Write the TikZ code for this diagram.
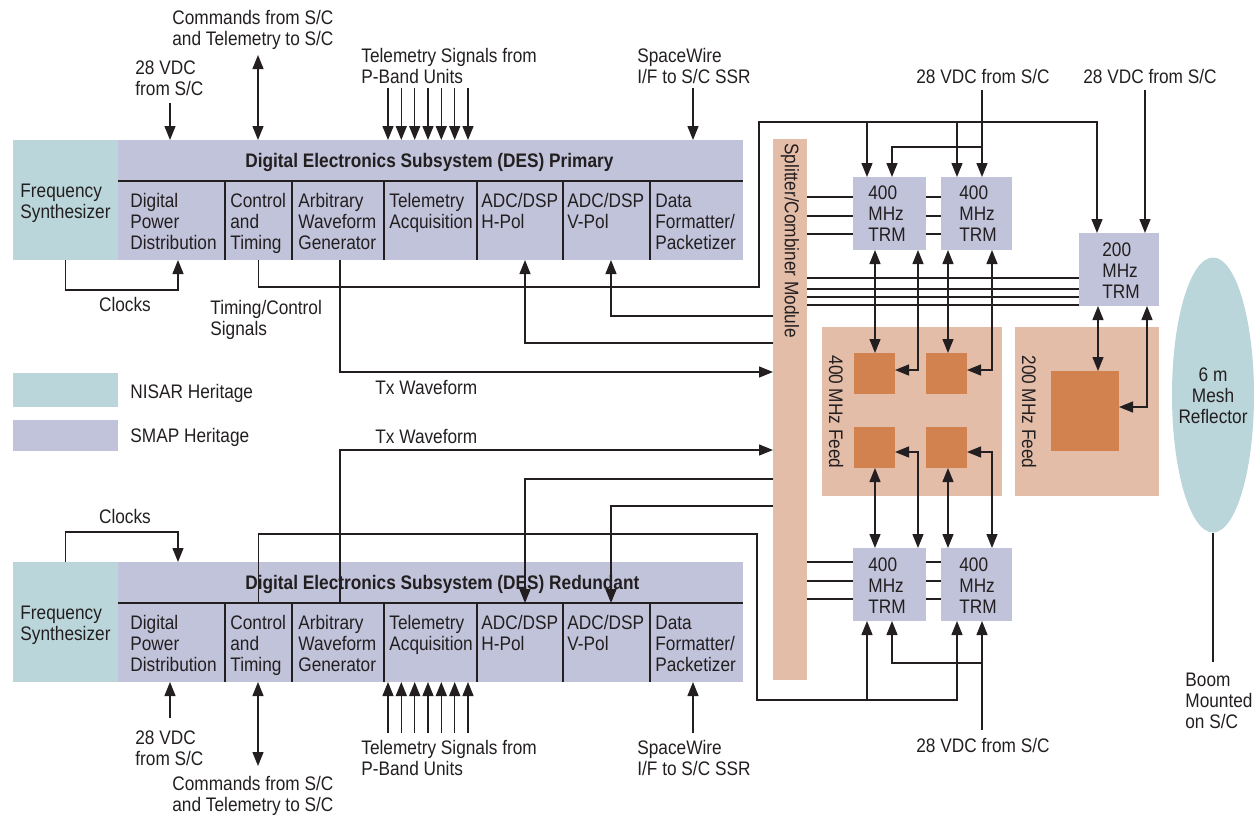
\documentclass[tikz,border=0pt]{standalone}
\usepackage{fontspec}
\setmainfont[FakeStretch=0.88]{Liberation Sans}
\usetikzlibrary{arrows.meta,fit,shapes.geometric}
\definecolor{nisar}{HTML}{BBD6DA}
\definecolor{smap}{HTML}{C1C3DA}
\definecolor{salmon}{HTML}{E4BDA9}
\definecolor{feedel}{HTML}{D1824F}
\definecolor{ink}{HTML}{231F20}
\newcommand\lbfont{\fontsize{9.8}{10.5}\selectfont}
\tikzset{
 blk/.style={inner sep=0pt,outer sep=0pt,draw=none},
 lbl/.style={inner sep=0pt,align=left,anchor=base west,text=ink,font=\lbfont},
 clbl/.style={lbl,align=center,anchor=base},
 ln/.style={draw=ink,line width=0.65pt},
}
\newcommand\desblk[3]{%
 \node[blk,fill=nisar,fit={(13,140+#2)(118,260+#2)}](fs#1){};
 \node[blk,fill=smap,fit={(118,140+#2)(743,260+#2)}](des#1){};
 \node[blk,fit={(118,140+#2)(743,181+#2)}](hd#1){};
 \node[blk,fit={(118,181+#2)(225,260+#2)}](dpd#1){};
 \node[blk,fit={(225,181+#2)(292,260+#2)}](ct#1){};
 \node[blk,fit={(292,181+#2)(384,260+#2)}](awg#1){};
 \node[blk,fit={(384,181+#2)(477,260+#2)}](tel#1){};
 \node[blk,fit={(477,181+#2)(563,260+#2)}](adch#1){};
 \node[blk,fit={(563,181+#2)(650,260+#2)}](adcv#1){};
 \node[blk,fit={(650,181+#2)(743,260+#2)}](dfp#1){};
 \draw[ln] (hd#1.south west)--(hd#1.south east);
 \foreach \xx in {225,292,384,477,563,650}{\draw[ln] (\xx,181+#2)--(\xx,260+#2);}
 \node[lbl,font=\lbfont\bfseries] (ttl#1) at (245,167+#2) {Digital Electronics Subsystem (DES) #3};
 \node[lbl] (tfs#1) at (20,218+#2) {Frequency\\Synthesizer};
 \node[lbl] (tdpd#1) at (130,249+#2) {Digital\\Power\\Distribution};
 \node[lbl] (tct#1) at (230,249+#2) {Control\\and\\Timing};
 \node[lbl] (tawg#1) at (298,249+#2) {Arbitrary\\Waveform\\Generator};
 \node[lbl] (ttel#1) at (389,228+#2) {Telemetry\\Acquisition};
 \node[lbl] (tadch#1) at (481,228+#2) {ADC/DSP\\H-Pol};
 \node[lbl] (tadcv#1) at (567,228+#2) {ADC/DSP\\V-Pol};
 \node[lbl] (tdfp#1) at (655,249+#2) {Data\\Formatter/\\Packetizer};
}
\begin{document}
\begin{tikzpicture}[x=0.5pt,y=-0.5pt,>={Triangle[length=7pt,width=5.5pt]}]
\useasboundingbox (0,0) rectangle (1260,815);
\desblk{1}{0}{Primary}
\desblk{2}{422}{Redundant}
% legend
\node[blk,fill=nisar,fit={(13,373)(118,407)}](lgn){};
\node[blk,fill=smap,fit={(13,420)(118,451)}](lgs){};
\node[lbl] (tlgn) at (130,398) {NISAR Heritage};
\node[lbl] (tlgs) at (130,442) {SMAP Heritage};
% splitter
\node[blk,fill=salmon,fit={(773,139)(807,680)}](split){};
\node[lbl,rotate=-90,anchor=west] (tsplit) at (790,143) {Splitter/Combiner Module};
% feeds
\node[blk,fill=salmon,fit={(822,327)(1002,496)}](f400){};
\node[blk,fill=salmon,fit={(1015,327)(1159,496)}](f200){};
\node[lbl,rotate=-90,anchor=center] (tf400) at (836,412) {400 MHz Feed};
\node[lbl,rotate=-90,anchor=center] (tf200) at (1029,412) {200 MHz Feed};
\node[blk,fill=feedel,fit={(854,353)(895,394)}](e1){};
\node[blk,fill=feedel,fit={(926,353)(967,394)}](e2){};
\node[blk,fill=feedel,fit={(854,427)(895,468)}](e3){};
\node[blk,fill=feedel,fit={(926,427)(967,468)}](e4){};
\node[blk,fill=feedel,fit={(1051,371)(1119,451)}](e5){};
% TRMs
\node[blk,fill=smap,fit={(853,177)(926,250)}](trm1){};
\node[blk,fill=smap,fit={(941,177)(1012,250)}](trm2){};
\node[blk,fill=smap,fit={(1079,233)(1159,306)}](trm200){};
\node[blk,fill=smap,fit={(853,548)(926,621)}](trm3){};
\node[blk,fill=smap,fit={(941,548)(1012,621)}](trm4){};
\node[lbl] (ttrm1) at (868,241) {400\\MHz\\TRM};
\node[lbl] (ttrm2) at (959,241) {400\\MHz\\TRM};
\node[lbl] (ttrm200) at (1102,298) {200\\MHz\\TRM};
\node[lbl] (ttrm3) at (868,613) {400\\MHz\\TRM};
\node[lbl] (ttrm4) at (959,613) {400\\MHz\\TRM};
% reflector
\node[ellipse,fill=nisar,inner sep=0pt,minimum width=41pt,minimum height=137.5pt] (refl) at (1213,395) {};
\node[clbl] (trefl) at (1213,423) {6 m\\Mesh\\Reflector};
\coordinate (boomend) at (1213,662);
\draw[draw=ink,line width=1.3pt] (refl.south) -- (boomend);
\node[lbl] (tboom) at (1185,728) {Boom\\Mounted\\on S/C};
% labels top
\node[lbl] (lpw1) at (135,95) {28 VDC\\from S/C};
\node[lbl] (lcmd1) at (172,45) {Commands from S/C\\and Telemetry to S/C};
\node[lbl] (ltel1) at (361,83) {Telemetry Signals from\\P-Band Units};
\node[lbl] (lspw1) at (637,83) {SpaceWire\\I/F to S/C SSR};
\node[clbl] (lclk1) at (125,311) {Clocks};
\node[lbl] (ltim) at (210,335) {Timing/Control\\Signals};
\node[lbl] (ltx1) at (375,394) {Tx Waveform};
\node[lbl] (ltx2) at (375,443) {Tx Waveform};
\node[clbl] (lpwa) at (983,83) {28 VDC from S/C};
\node[clbl] (lpwb) at (1150,83) {28 VDC from S/C};
% labels bottom
\node[lbl] (lpw2) at (135,765) {28 VDC\\from S/C};
\node[lbl] (lcmd2) at (172,811) {Commands from S/C\\and Telemetry to S/C};
\node[lbl] (ltel2) at (361,775) {Telemetry Signals from\\P-Band Units};
\node[lbl] (lspw2) at (637,775) {SpaceWire\\I/F to S/C SSR};
\node[clbl] (lclk2) at (125,523) {Clocks};
\node[clbl] (lpwc) at (983,752) {28 VDC from S/C};
% primary connectors
\coordinate (p1pwr) at (170,103);
\draw[->,ln] (p1pwr) -- (des1.north -| p1pwr);
\coordinate (p1cmd) at (258,55);
\draw[<->,ln] (p1cmd) -- (des1.north -| p1cmd);
\foreach \xx [count=\i] in {388,401.3,414.7,428,441.3,454.7,468}{
 \coordinate (p1tel\i) at (\xx,88); \draw[->,ln] (p1tel\i) -- (des1.north -| p1tel\i);}
\coordinate (p1spw) at (693,88);
\draw[->,ln] (p1spw) -- (des1.north -| p1spw);
\draw[->,ln] (fs1.south) -- ++(0,30) -| (des1.south -| 178,0);
\draw[->,ln] (ct1.south) |- (759,287) |- (1097,122) -- (trm200.north -| 1097,0);
\draw[->,ln] (867,122) -- (trm1.north -| 867,0);
\draw[->,ln] (957,122) -- (trm2.north -| 957,0);
\draw[->,ln] (awg1.south -| 340,0) |- (split.west |- 0,372);
\draw[->,ln] (split.west |- 0,343) -| (adch1.south -| 525,0);
\draw[->,ln] (split.west |- 0,316) -| (adcv1.south -| 611,0);
% redundant connectors
\coordinate (p2pwr) at (170,718);
\draw[->,ln] (p2pwr) -- (des2.south -| p2pwr);
\coordinate (p2cmd) at (258,766);
\draw[<->,ln] (p2cmd) -- (des2.south -| p2cmd);
\foreach \xx [count=\i] in {388,401.3,414.7,428,441.3,454.7,468}{
 \coordinate (p2tel\i) at (\xx,733); \draw[->,ln] (p2tel\i) -- (des2.south -| p2tel\i);}
\coordinate (p2spw) at (693,733);
\draw[->,ln] (p2spw) -- (des2.south -| p2spw);
\draw[->,ln] (fs2.north) -- ++(0,-30) -| (des2.north -| 178,0);
\draw[->,ln] (ct2.north) |- (757,534) |- (957,700) -- (trm4.south -| 957,0);
\draw[->,ln] (867,700) -- (trm3.south -| 867,0);
\draw[->,ln] (awg2.north -| 340,0) |- (split.west |- 0,450);
\draw[->,ln] (split.west |- 0,479) -| (adch2.north -| 525,0);
\draw[->,ln] (split.west |- 0,506) -| (adcv2.north -| 611,0);
% power to TRMs
\coordinate (pw1) at (982,90);
\draw[->,ln] (pw1) -- (trm2.north -| pw1);
\draw[->,ln] (982,147) -| (trm1.north -| 892,0);
\coordinate (pw2) at (1145,90);
\draw[->,ln] (pw2) -- (trm200.north -| pw2);
\coordinate (pw3) at (982,730);
\draw[->,ln] (pw3) -- (trm4.south -| pw3);
\draw[->,ln] (982,663) -| (trm3.south -| 892,0);
% splitter to TRMs
\foreach \yy in {197,216,234}{
 \draw[ln] (split.east |- 0,\yy) -- (trm1.west |- 0,\yy);
 \draw[ln] (trm1.east |- 0,\yy) -- (trm2.west |- 0,\yy);}
\foreach \yy in {278,289,297,305}{
 \draw[ln] (split.east |- 0,\yy) -- (trm200.west |- 0,\yy);}
\foreach \yy in {562,581,599}{
 \draw[ln] (split.east |- 0,\yy) -- (trm3.west |- 0,\yy);
 \draw[ln] (trm3.east |- 0,\yy) -- (trm4.west |- 0,\yy);}
% TRMs to feed elements
\draw[<->,ln] (trm1.south -| 875,0) -- (e1.north -| 875,0);
\draw[<->,ln] (trm1.south -| 918,0) |- (e1.east |- 0,370);
\draw[<->,ln] (trm2.south -| 948,0) -- (e2.north -| 948,0);
\draw[<->,ln] (trm2.south -| 992,0) |- (e2.east |- 0,370);
\draw[<->,ln] (trm3.north -| 875,0) -- (e3.south -| 875,0);
\draw[<->,ln] (trm3.north -| 918,0) |- (e3.east |- 0,452);
\draw[<->,ln] (trm4.north -| 948,0) -- (e4.south -| 948,0);
\draw[<->,ln] (trm4.north -| 992,0) |- (e4.east |- 0,452);
\draw[<->,ln] (trm200.south -| 1098,0) -- (e5.north -| 1098,0);
\draw[<->,ln] (trm200.south -| 1147,0) |- (e5.east |- 0,407);
\end{tikzpicture}
\end{document}
